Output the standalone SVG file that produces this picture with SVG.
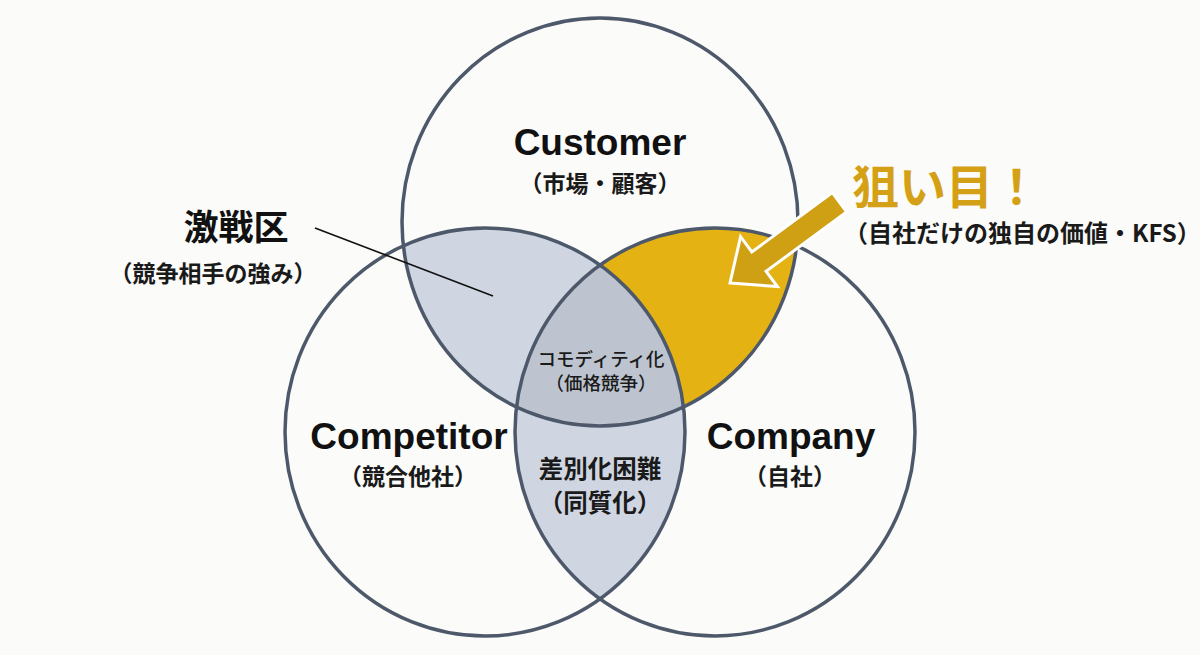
<svg xmlns="http://www.w3.org/2000/svg" width="1200" height="655" viewBox="0 0 1200 655">
<style>
.ttl{font-family:"Liberation Sans","Noto Sans CJK JP",sans-serif;font-weight:700;font-size:37px;fill:#111;text-anchor:middle}
.sub{font-family:"Noto Sans CJK JP",sans-serif;font-weight:700;font-size:23px;fill:#1a1a1a;text-anchor:middle}
.mid{font-family:"Noto Sans CJK JP",sans-serif;font-weight:500;font-size:18.5px;fill:#1a1a1a;text-anchor:middle}
.mid2{font-family:"Noto Sans CJK JP",sans-serif;font-weight:700;font-size:24.5px;fill:#1a1a1a;text-anchor:middle}
.ring{fill:none;stroke:#4d596a;stroke-width:3.5}
</style>
<defs>
<clipPath id="cCus"><ellipse cx="600" cy="222" rx="198" ry="204"/></clipPath>
<clipPath id="cCom"><ellipse cx="485" cy="432" rx="200" ry="204"/></clipPath>
<clipPath id="cCo"><ellipse cx="715" cy="432" rx="200" ry="204"/></clipPath>
</defs>
<rect width="1200" height="655" fill="#fbfbf9"/>
<g id="regions">
<ellipse cx="485" cy="432" rx="200" ry="204" fill="#cfd6e1" clip-path="url(#cCus)"/>
<ellipse cx="715" cy="432" rx="200" ry="204" fill="#e5b214" clip-path="url(#cCus)"/>
<ellipse cx="485" cy="432" rx="200" ry="204" fill="#cfd6e1" clip-path="url(#cCo)"/>
<g clip-path="url(#cCus)"><ellipse cx="715" cy="432" rx="200" ry="204" fill="#bdc4cf" clip-path="url(#cCom)"/></g>
</g>
<g id="customer">
<ellipse class="ring" cx="600" cy="222" rx="198" ry="204"/>
<text class="ttl" x="600" y="155">Customer</text>
<text class="sub" x="600" y="192">（市場・顧客）</text>
</g>
<g id="competitor">
<ellipse class="ring" cx="485" cy="432" rx="200" ry="204"/>
<text class="ttl" x="409" y="449">Competitor</text>
<text class="sub" x="408" y="485">（競合他社）</text>
</g>
<g id="company">
<ellipse class="ring" cx="715" cy="432" rx="200" ry="204"/>
<text class="ttl" x="791" y="449">Company</text>
<text class="sub" x="790" y="485">（自社）</text>
</g>
<g id="center">
<text class="mid" x="601" y="366">コモディティ化</text>
<text class="mid" x="601" y="390">（価格競争）</text>
</g>
<g id="bottom-lens">
<text class="mid2" x="600" y="478">差別化困難</text>
<text class="mid2" x="600" y="512">（同質化）</text>
</g>
<g id="gekisenku">
<text x="236" y="240" style="font-family:'Noto Sans CJK JP',sans-serif;font-weight:700;font-size:35px;fill:#111;text-anchor:middle">激戦区</text>
<text class="sub" x="213" y="282">（競争相手の強み）</text>
</g>
<g id="nerai">
<text x="852" y="204" style="font-family:'Noto Sans CJK JP',sans-serif;font-weight:700;font-size:47px;fill:#d4a116">狙い目！</text>
<text x="844" y="242" style="font-family:'Noto Sans CJK JP',sans-serif;font-weight:700;font-size:24px;fill:#1a1a1a">（自社だけの独自の価値・KFS）</text>
</g>
<g id="connectors">
<line x1="315" y1="228" x2="493" y2="296" stroke="#111" stroke-width="1.6"/>
<polygon transform="translate(730,283) rotate(143.6)" points="0,0 -36,-31 -36,-12 -136,-12 -136,12 -36,12 -36,31" fill="#cf9f14" stroke="#fff" stroke-width="3" stroke-linejoin="miter"/>
</g>
</svg>
